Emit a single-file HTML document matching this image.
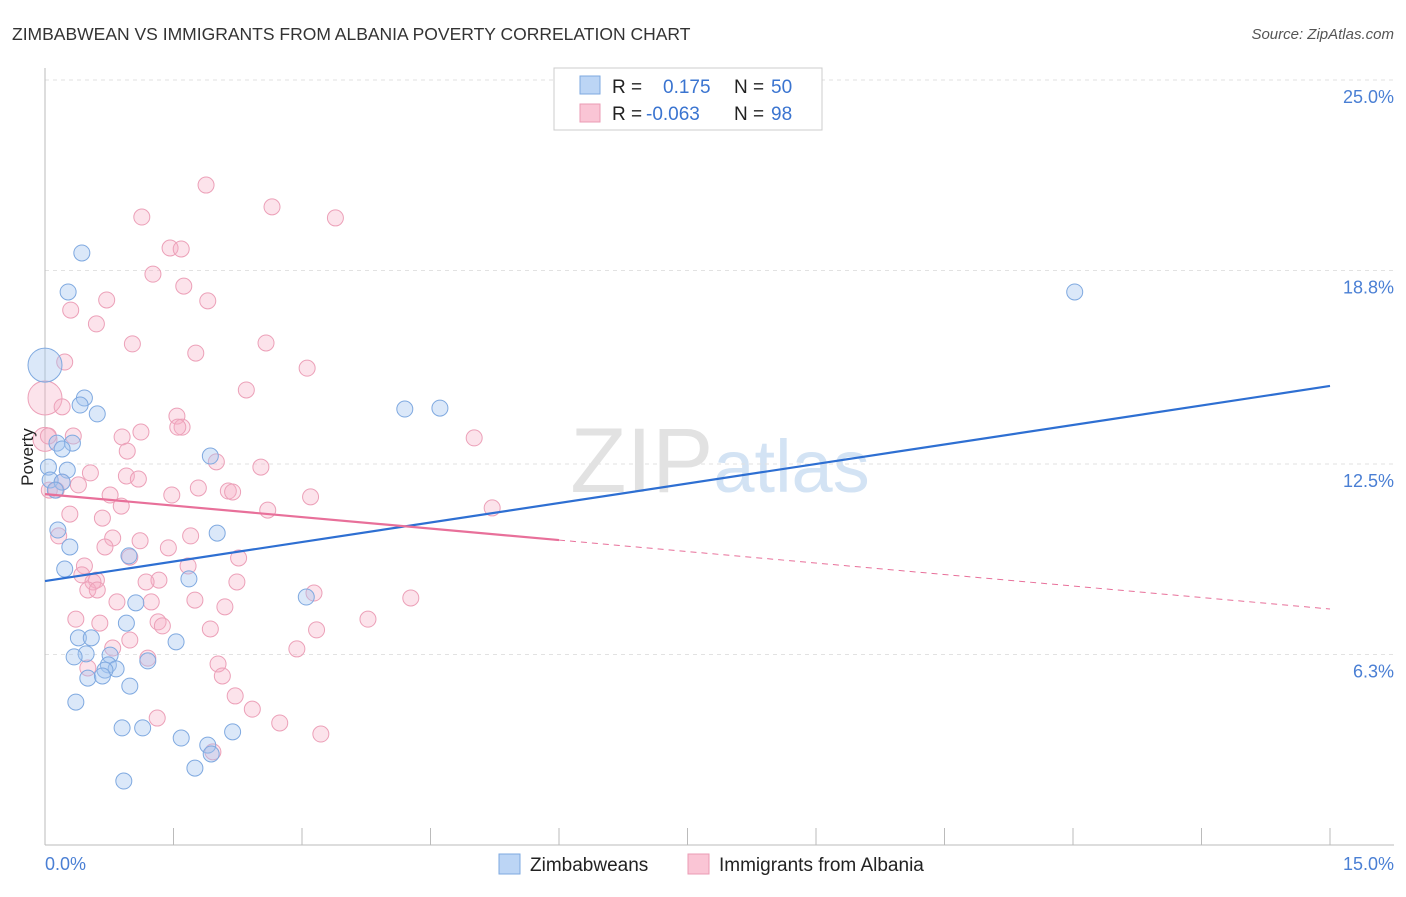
<!DOCTYPE html>
<html><head><meta charset="utf-8"><style>
body{margin:0;background:#fff;font-family:"Liberation Sans",sans-serif}
svg text{font-family:"Liberation Sans",sans-serif}
</style></head><body>
<svg width="1406" height="892" viewBox="0 0 1406 892">
<text x="12" y="40" font-size="17.5" fill="#333">ZIMBABWEAN VS IMMIGRANTS FROM ALBANIA POVERTY CORRELATION CHART</text>
<text x="1394" y="39" font-size="15" fill="#555" text-anchor="end" font-style="italic">Source: ZipAtlas.com</text>
<text x="720" y="492" font-size="92" fill="#e2e2e2" text-anchor="middle" font-family="Liberation Serif">ZIP<tspan fill="#d3e3f4" font-family="Liberation Sans" font-size="74">atlas</tspan></text>
<g id="grid"></g>
<g id="axes"></g>
<g id="marks"></g>
<text x="33" y="457" font-size="17" fill="#222" text-anchor="middle" transform="rotate(-90 33 457)">Poverty</text>
<text x="45" y="870" font-size="18" fill="#4a7fd4">0.0%</text>
<text x="1394" y="870" font-size="18" fill="#4a7fd4" text-anchor="end">15.0%</text>
<g>
<rect x="554" y="68" width="268" height="62" fill="#fff" stroke="#ccc"/>
<rect x="580" y="76" width="20" height="18" fill="#bcd5f5" stroke="#7ea9e0"/>
<rect x="580" y="104" width="20" height="18" fill="#fac5d5" stroke="#eb9bb4"/>
<text x="612" y="93" font-size="19" fill="#222">R = <tspan x="663" fill="#3a74d0">0.175</tspan><tspan x="734" fill="#222">N = </tspan><tspan x="771" fill="#3a74d0">50</tspan></text>
<text x="612" y="120" font-size="19" fill="#222">R = <tspan x="646" fill="#3a74d0">-0.063</tspan><tspan x="734" fill="#222">N = </tspan><tspan x="771" fill="#3a74d0">98</tspan></text>
</g>
<g>
<rect x="499" y="854" width="21" height="20" fill="#bcd5f5" stroke="#7ea9e0"/>
<text x="530" y="871" font-size="19" fill="#222">Zimbabweans</text>
<rect x="688" y="854" width="21" height="20" fill="#fac5d5" stroke="#eb9bb4"/>
<text x="719" y="871" font-size="19" fill="#222">Immigrants from Albania</text>
</g>
</svg>
<script>
const yTicks=[25.0,18.8,12.5,6.3];
const yTickLabels=["25.0%","18.8%","12.5%","6.3%"];
const xTicks=[0,1.5,3,4.5,6,7.5,9,10.5,12,13.5,15];
const blueX=[0,.43,.27,.46,.41,.61,.14,.32,.2,.04,.26,.06,.2,.12,.15,.29,.23,.98,1.68,2.01,1.93,1.06,3.05,.95,.39,.54,.48,.34,.76,.74,.83,.7,.5,.67,.99,1.2,1.53,.36,.9,1.14,1.59,1.9,2.19,1.94,1.75,.92,4.2,4.61,12.02];
const blueY=[15.72,19.37,18.1,14.65,14.42,14.13,13.18,13.18,12.99,12.4,12.3,11.98,11.91,11.65,10.35,9.8,9.08,9.51,8.76,10.25,12.76,7.98,8.17,7.32,6.84,6.84,6.32,6.22,6.28,5.96,5.83,5.79,5.53,5.6,5.27,6.09,6.71,4.75,3.91,3.91,3.58,3.35,3.78,3.06,2.6,2.18,14.29,14.32,18.1];
const pinkX=[0,0,.23,1.88,1.13,2.65,3.39,1.46,1.59,1.26,1.62,.72,1.9,.3,.6,1.02,2.58,1.76,3.06,2.35,.2,1.54,1.6,1.55,1.12,.9,.33,.04,5.01,.96,2,2.52,.53,.95,.2,1.09,.39,.05,.13,.76,1.48,1.79,2.14,2.19,3.1,5.22,2.6,.29,.67,.89,.16,.79,1.7,1.11,.7,1.44,.99,2.26,1.67,.46,.43,.6,.56,1.33,1.18,2.24,.5,.61,3.14,1.75,.84,1.24,2.1,4.27,.36,1.32,1.37,3.77,.64,1.93,3.17,.99,2.94,.79,.5,1.2,2.02,2.07,2.22,2.42,1.31,2.74,3.22,1.96];
const pinkY=[14.65,13.3,15.82,21.58,20.54,20.87,20.51,19.53,19.5,18.68,18.29,17.84,17.81,17.51,17.06,16.41,16.44,16.11,15.62,14.91,14.36,14.06,13.7,13.7,13.54,13.38,13.41,13.41,13.35,12.92,12.57,12.4,12.21,12.11,11.91,12.01,11.82,11.65,11.65,11.49,11.49,11.72,11.62,11.59,11.43,11.07,11,10.87,10.74,11.13,10.16,10.09,10.16,10,9.8,9.77,9.47,9.44,9.18,9.18,8.89,8.72,8.66,8.72,8.66,8.66,8.4,8.4,8.3,8.07,8.01,8.01,7.85,8.14,7.45,7.36,7.23,7.45,7.32,7.13,7.1,6.77,6.48,6.51,5.86,6.18,5.99,5.6,4.95,4.52,4.23,4.07,3.71,3.13];
const blueTrend=[8.69,15.04];
const pinkTrend=[11.52,7.78];
const pinkSolidEnd=6.0;
const X=v=>45+v/15*1285, Y=v=>80+(25-v)*30.72;
const NS="http://www.w3.org/2000/svg";
function mk(parent,tag,attrs){const e=document.createElementNS(NS,tag);for(const k in attrs)e.setAttribute(k,attrs[k]);document.getElementById(parent).appendChild(e);return e;}
yTicks.forEach((t,i)=>{
 const l=mk('grid','line',{x1:45,x2:1394,y1:Y(t),y2:Y(t),stroke:'#e2e2e2','stroke-dasharray':'4,4'});
 
 
 const tx=mk('grid','text',{x:1394,y:Y(t)+23,'font-size':18,fill:'#4a7fd4','text-anchor':'end'});
 tx.textContent=yTickLabels[i];
 
 
});
const ya=mk('axes','line',{x1:45,x2:45,y1:68,y2:845,stroke:'#bbb'});


const xa=mk('axes','line',{x1:45,x2:1394,y1:845,y2:845,stroke:'#bbb'});


xTicks.forEach(t=>{
 const l=mk('axes','line',{x1:X(t),x2:X(t),y1:828,y2:845,stroke:'#bbb'});
 
 
});
pinkX.forEach((x,i)=>{
 const r=(i===0?17:(i===1?12:8));
 const c=mk('marks','circle',{cx:X(x),cy:Y(pinkY[i]),r:r,fill:'#f7b0c6','fill-opacity':0.35,stroke:'#eca0b8','stroke-width':1});
 
 
});
blueX.forEach((x,i)=>{
 const c=mk('marks','circle',{cx:X(x),cy:Y(blueY[i]),r:(i===0?17:8),fill:'#a6c6f0','fill-opacity':0.4,stroke:'#7fa9e0','stroke-width':1});
 
 
});
const bl=mk('marks','line',{x1:X(0),y1:Y(blueTrend[0]),x2:X(15),y2:Y(blueTrend[1]),stroke:'#2e6fd2','stroke-width':2.2});


const py=x=>pinkTrend[0]+(pinkTrend[1]-pinkTrend[0])*x/15;
const ps=mk('marks','line',{x1:X(0),y1:Y(py(0)),x2:X(pinkSolidEnd),y2:Y(py(pinkSolidEnd)),stroke:'#e8709a','stroke-width':2.2});


const pd=mk('marks','line',{x1:X(pinkSolidEnd),y1:Y(py(pinkSolidEnd)),x2:X(15),y2:Y(py(15)),stroke:'#e8709a','stroke-width':1,'stroke-dasharray':'6,5'});


</script>
</body></html>
